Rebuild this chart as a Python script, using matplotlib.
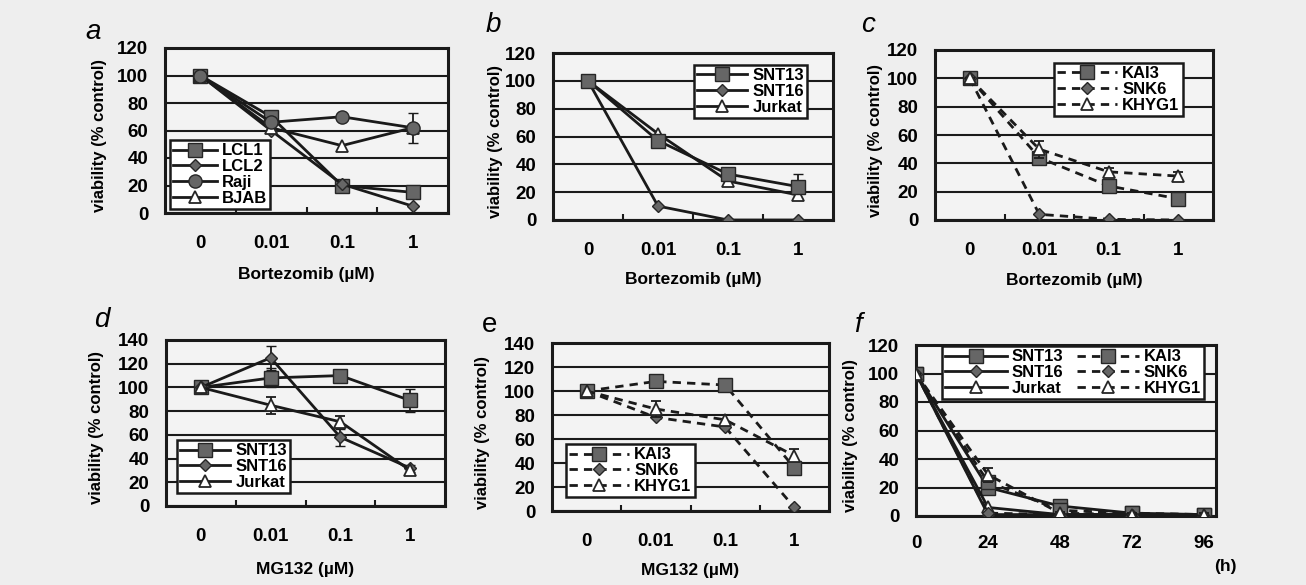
import matplotlib
matplotlib.use("Agg")
import matplotlib.pyplot as plt
from matplotlib.lines import Line2D

plt.rcParams['font.family'] = ['Liberation Sans', 'DejaVu Sans']
plt.rcParams['font.weight'] = 'bold'

# ---------------- data ----------------
conc_labels = ["0", "0.01", "0.1", "1"]
hours = [0, 24, 48, 72, 96]
hour_labels = ["0", "24", "48", "72", "96"]

# panel a (Bortezomib)
a_LCL1 = [100, 70, 20, 15]
a_LCL2 = [100, 60, 21, 5]
a_Raji = [100, 66, 70, 62]
a_BJAB = [100, 62, 49, 62]
a_Raji_err = [0, 0, 0, 11]

# panel b (Bortezomib)
b_SNT13 = [100, 57, 33, 24]
b_SNT16 = [100, 10, 0, 0]
b_Jurkat = [100, 62, 28, 18]
b_SNT13_err = [0, 3, 3, 9]

# panel c (Bortezomib)
c_KAI3 = [100, 44, 24, 15]
c_SNK6 = [100, 4, 0.5, 0]
c_KHYG1 = [100, 50, 34, 31]
c_KHYG1_err = [0, 6, 3, 3]

# panel d (MG132)
d_SNT13 = [100, 108, 110, 89]
d_SNT16 = [100, 125, 58, 32]
d_Jurkat = [100, 85, 71, 30]
d_SNT13_err = [0, 8, 4, 10]
d_SNT16_err = [0, 10, 7, 3]
d_Jurkat_err = [0, 7, 5, 3]

# panel e (MG132)
e_KAI3 = [100, 108, 105, 36]
e_SNK6 = [100, 78, 70, 3]
e_KHYG1 = [100, 85, 76, 46]
e_KAI3_err = [0, 3, 3, 5]
e_KHYG1_err = [0, 7, 4, 6]

# panel f (time course)
f_SNT13 = [100, 20, 7, 2, 1]
f_SNT16 = [100, 1, 1, 1, 1]
f_Jurkat = [100, 6, 1, 1, 1]
f_KAI3 = [100, 24, 4, 2, 1]
f_SNK6 = [100, 2, 1, 1, 0]
f_KHYG1 = [100, 29, 2, 1, 1]
f_KHYG1_err = [0, 5, 1, 1, 1]

# ---------------- figure ----------------
W, H = 1306, 585
fig = plt.figure(figsize=(W / 100, H / 100), dpi=100)
BG = '#eeeeee'
fig.patch.set_facecolor(BG)

def px_axes(left, top, right, bottom):
    return fig.add_axes([left / W, 1 - bottom / H, (right - left) / W, (bottom - top) / H])

GRAY = '#666666'
EDGE = '#262626'
LINE = '#1a1a1a'
LW = 2.0
styles = {
    'sq': dict(marker='s', ms=9.5, mfc=GRAY, mec=EDGE, mew=1.0),
    'di': dict(marker='D', ms=6.0, mfc=GRAY, mec=EDGE, mew=1.0),
    'ci': dict(marker='o', ms=9.5, mfc=GRAY, mec=EDGE, mew=1.0),
    'tr': dict(marker='^', ms=8.0, mfc='white', mec=EDGE, mew=1.3),
}
DASH = (0, (3.0, 2.2))

def style_ax(ax, ytop, xcat=True, ylpad=56):
    ax.set_facecolor('#f3f3f3')
    ax.set_ylim(0, ytop)
    ax.set_yticks(range(0, ytop + 1, 20))
    ax.yaxis.grid(True, color=LINE, lw=1.5)
    ax.set_axisbelow(True)
    for s in ax.spines.values():
        s.set_linewidth(2.2)
        s.set_color(LINE)
    ax.tick_params(axis='y', length=0, pad=12, labelsize=13.5)
    if xcat:
        ax.set_xlim(-0.5, 3.5)
        ax.set_xticks(range(4))
        ax.set_xticklabels(conc_labels)
        ax.set_xticks([0.5, 1.5, 2.5], minor=True)
        ax.tick_params(axis='x', which='major', length=0, pad=16, labelsize=13.5)
        ax.tick_params(axis='x', which='minor', direction='in', length=4, width=1.5, color=LINE)
    ax.set_ylabel('viability (% control)', fontsize=12, fontweight='bold')
    bb = ax.get_position()
    ax.yaxis.set_label_coords(-ylpad / (bb.width * W), 0.47)

def plot_series(ax, x, y, st, dashed=False, err=None, label=None):
    kw = dict(styles[st])
    ls = DASH if dashed else '-'
    if err is not None:
        ax.errorbar(x, y, yerr=err, color=LINE, lw=LW, ls=ls, capsize=3.5, elinewidth=1.3,
                    capthick=1.3, label=label, zorder=3, **kw)
    else:
        ax.plot(x, y, color=LINE, lw=LW, ls=ls, label=label, zorder=3, **kw)

def make_legend(ax, handles, labels, x, y, ncol=1, hl=3.0, fs=12, cs=1.5):
    leg = ax.legend(handles, labels, loc='upper left', bbox_to_anchor=(x / W, 1 - y / H),
                    bbox_transform=fig.transFigure, ncol=ncol, frameon=True, fancybox=False,
                    edgecolor=LINE, framealpha=1, facecolor='white', fontsize=fs,
                    handlelength=hl, handletextpad=0.3, labelspacing=0.05, borderpad=0.2,
                    borderaxespad=0, columnspacing=cs)
    leg.get_frame().set_linewidth(1.8)
    return leg

def handle(st, dashed=False):
    return Line2D([], [], color=LINE, lw=LW, ls=DASH if dashed else '-', **styles[st])

def xlab(ax, text, dy):
    ax.set_xlabel(text, fontsize=12.5, fontweight='bold')
    bb = ax.get_position()
    ax.xaxis.set_label_coords(0.5, -dy / (bb.height * H))

def letter(x, y, t, italic=True):
    fig.text(x / W, 1 - y / H, t, fontsize=20, style='italic' if italic else 'normal',
             fontweight='normal', ha='center', va='center')

x4 = list(range(4))

# ---- a ----
ax = px_axes(165, 48, 448, 213)
style_ax(ax, 120, ylpad=58)
plot_series(ax, x4, a_LCL1, 'sq')
plot_series(ax, x4, a_LCL2, 'di')
plot_series(ax, x4, a_Raji, 'ci', err=a_Raji_err)
plot_series(ax, x4, a_BJAB, 'tr')
make_legend(ax, [handle('sq'), handle('di'), handle('ci'), handle('tr')],
            ['LCL1', 'LCL2', 'Raji', 'BJAB'], 170, 140, hl=2.6)
xlab(ax, 'Bortezomib (µM)', 54)
letter(93, 32, 'a')

# ---- b ----
ax = px_axes(553, 53, 833, 220)
style_ax(ax, 120, ylpad=50)
plot_series(ax, x4, b_SNT13, 'sq', err=b_SNT13_err)
plot_series(ax, x4, b_SNT16, 'di')
plot_series(ax, x4, b_Jurkat, 'tr')
make_legend(ax, [handle('sq'), handle('di'), handle('tr')],
            ['SNT13', 'SNT16', 'Jurkat'], 694, 65, hl=3.0)
xlab(ax, 'Bortezomib (µM)', 52)
letter(493, 25, 'b')

# ---- c ----
ax = px_axes(935, 50, 1213, 220)
style_ax(ax, 120, ylpad=52)
plot_series(ax, x4, c_KAI3, 'sq', dashed=True)
plot_series(ax, x4, c_SNK6, 'di', dashed=True)
plot_series(ax, x4, c_KHYG1, 'tr', dashed=True, err=c_KHYG1_err)
make_legend(ax, [handle('sq', True), handle('di', True), handle('tr', True)],
            ['KAI3', 'SNK6', 'KHYG1'], 1054, 63, hl=3.6)
xlab(ax, 'Bortezomib (µM)', 53)
letter(868, 25, 'c')

# ---- d ----
ax = px_axes(166, 340, 445, 506)
style_ax(ax, 140, ylpad=62)
plot_series(ax, x4, d_SNT13, 'sq', err=d_SNT13_err)
plot_series(ax, x4, d_SNT16, 'di', err=d_SNT16_err)
plot_series(ax, x4, d_Jurkat, 'tr', err=d_Jurkat_err)
make_legend(ax, [handle('sq'), handle('di'), handle('tr')],
            ['SNT13', 'SNT16', 'Jurkat'], 177, 440, hl=3.0)
xlab(ax, 'MG132 (µM)', 56)
letter(102, 320, 'd')

# ---- e ----
ax = px_axes(552, 343, 829, 511)
style_ax(ax, 140, ylpad=62)
plot_series(ax, x4, e_KAI3, 'sq', dashed=True, err=e_KAI3_err)
plot_series(ax, x4, e_SNK6, 'di', dashed=True)
plot_series(ax, x4, e_KHYG1, 'tr', dashed=True, err=e_KHYG1_err)
make_legend(ax, [handle('sq', True), handle('di', True), handle('tr', True)],
            ['KAI3', 'SNK6', 'KHYG1'], 566, 444, hl=3.6)
xlab(ax, 'MG132 (µM)', 52)
letter(490, 325, 'e', italic=False)

# ---- f ----
ax = px_axes(916, 345, 1216, 516)
style_ax(ax, 120, xcat=False, ylpad=58)
ax.set_xlim(0, 100)
ax.set_xticks(hours)
ax.set_xticklabels(hour_labels)
ax.tick_params(axis='x', length=0, pad=14, labelsize=13.5)
plot_series(ax, hours, f_SNT13, 'sq')
plot_series(ax, hours, f_SNT16, 'di')
plot_series(ax, hours, f_Jurkat, 'tr')
plot_series(ax, hours, f_KAI3, 'sq', dashed=True)
plot_series(ax, hours, f_SNK6, 'di', dashed=True)
plot_series(ax, hours, f_KHYG1, 'tr', dashed=True, err=f_KHYG1_err)
make_legend(ax, [handle('sq'), handle('di'), handle('tr'),
                 handle('sq', True), handle('di', True), handle('tr', True)],
            ['SNT13', 'SNT16', 'Jurkat', 'KAI3', 'SNK6', 'KHYG1'], 942, 346,
            ncol=2, hl=3.7, cs=0.8)
fig.text(1225 / W, 1 - 567 / H, '(h)', fontsize=12.5, fontweight='bold', ha='center', va='center')
letter(858, 325, 'f')

fig.savefig('out.png', dpi=100, facecolor=BG)
